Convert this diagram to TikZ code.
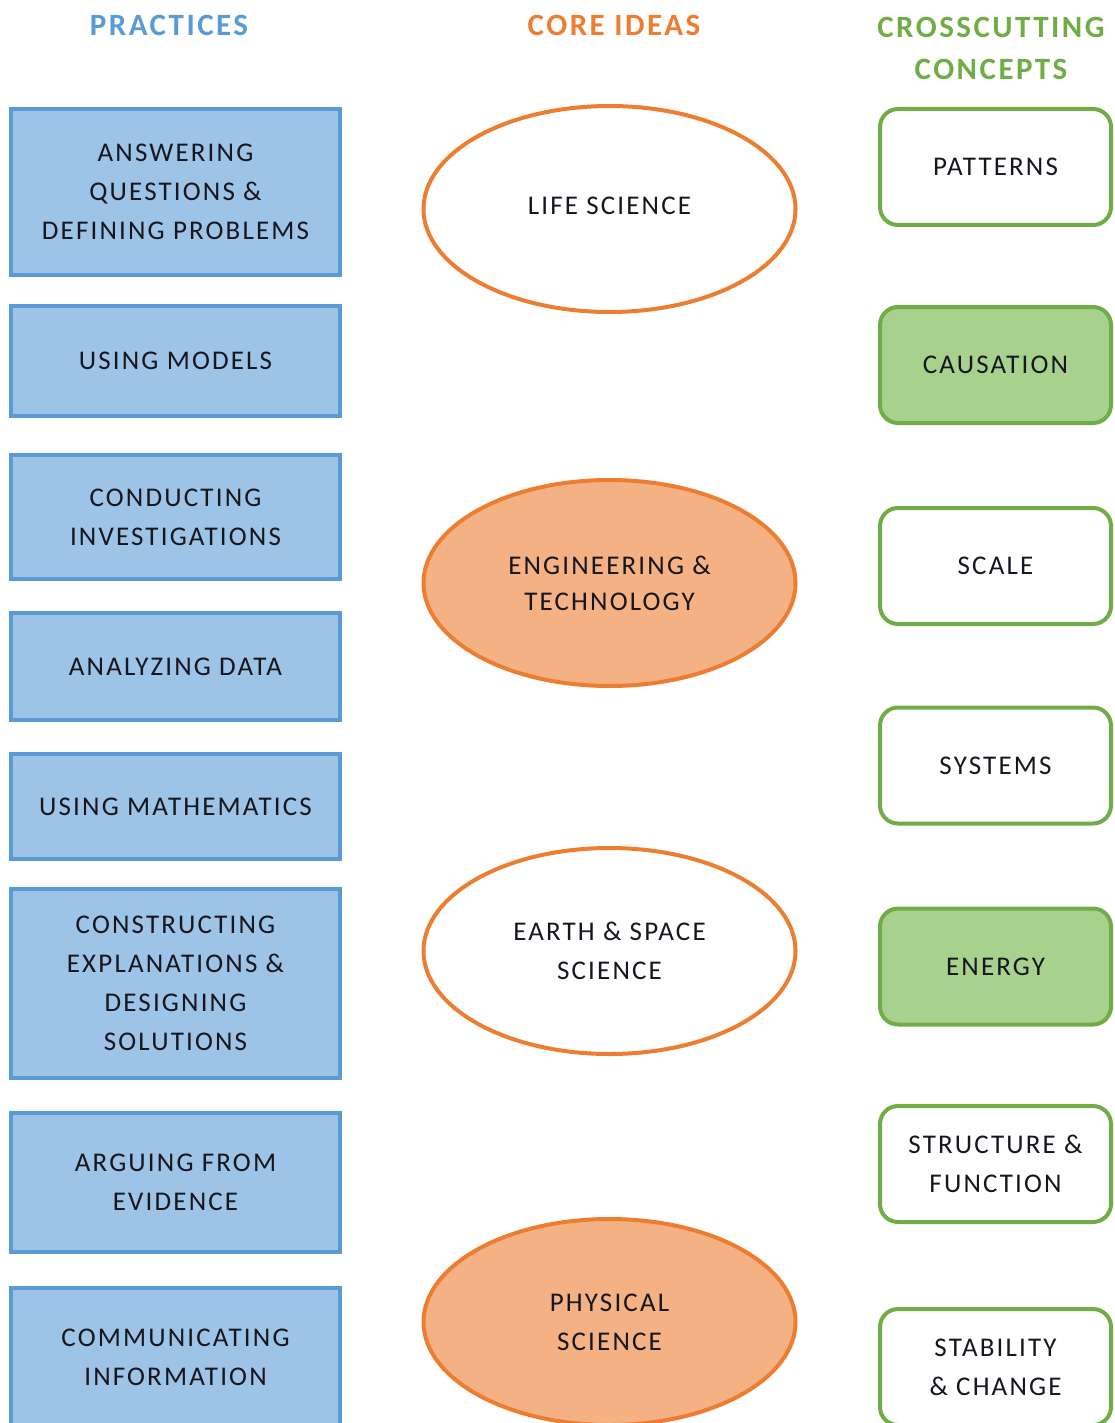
\documentclass[tikz,border=0pt]{standalone}
\usepackage{fontspec}
\setmainfont{Carlito}[LetterSpace=8]
\usetikzlibrary{shapes.geometric}
\definecolor{pblue}{HTML}{5B9BD5}
\definecolor{pbluefill}{HTML}{9DC3E6}
\definecolor{corange}{HTML}{ED7D31}
\definecolor{corangefill}{HTML}{F4B183}
\definecolor{cgreen}{HTML}{70AD47}
\definecolor{cgreenfill}{HTML}{A9D18E}
\definecolor{txt}{HTML}{16161E}
\begin{document}
\begin{tikzpicture}[x=1pt,y=-1pt,
  every node/.style={text=txt, font=\fontsize{27}{39}\selectfont, align=center, inner sep=0pt},
  practice/.style={draw=pblue, fill=pbluefill, line width=4pt, rectangle, minimum width=329pt},
  idea/.style={draw=corange, line width=4pt, ellipse, minimum width=372pt, minimum height=206pt},
  ideafill/.style={idea, fill=corangefill},
  concept/.style={draw=cgreen, line width=4pt, rectangle, rounded corners=18pt, minimum width=231pt, minimum height=116pt},
  conceptfill/.style={concept, fill=cgreenfill},
  header/.style={font=\fontsize{31}{42}\selectfont\bfseries}
]
\useasboundingbox (0,0) rectangle (1115,1423);
\clip (0,0) rectangle (1115,1423);
% headers
\node[header, text=pblue] (hprac) at (169,25) {PRACTICES};
\node[header, text=corange] (hcore) at (614,25) {CORE IDEAS};
\node[header, text=cgreen] (hcross) at (991,48) {CROSSCUTTING\\CONCEPTS};
% practices
\node[practice, minimum height=166pt] (p1) at (175.5,192) {ANSWERING\\QUESTIONS \&\\DEFINING PROBLEMS};
\node[practice, minimum height=110pt] (p2) at (175.5,361) {USING MODELS};
\node[practice, minimum height=124pt] (p3) at (175.5,517) {CONDUCTING\\INVESTIGATIONS};
\node[practice, minimum height=107pt] (p4) at (175.5,666.5) {ANALYZING DATA};
\node[practice, minimum height=105pt] (p5) at (175.5,806.5) {USING MATHEMATICS};
\node[practice, minimum height=189pt] (p6) at (175.5,983.5) {CONSTRUCTING\\EXPLANATIONS \&\\DESIGNING\\SOLUTIONS};
\node[practice, minimum height=139pt] (p7) at (175.5,1182.5) {ARGUING FROM\\EVIDENCE};
\node[practice, minimum height=139pt] (p8) at (175.5,1357) {COMMUNICATING\\INFORMATION};
% core ideas
\node[idea] (c1) at (609.5,209) {\raisebox{7pt}{LIFE SCIENCE}};
\node[ideafill, font=\fontsize{27}{36}\selectfont] (c2) at (609.5,583) {ENGINEERING \&\\TECHNOLOGY};
\node[idea] (c3) at (609.5,951) {EARTH \& SPACE\\SCIENCE};
\node[ideafill] (c4) at (609.5,1322) {PHYSICAL\\SCIENCE};
% crosscutting concepts
\node[concept] (k1) at (995.5,167) {PATTERNS};
\node[conceptfill] (k2) at (995.5,365) {CAUSATION};
\node[concept] (k3) at (995.5,566) {SCALE};
\node[concept] (k4) at (995.5,765.5) {SYSTEMS};
\node[conceptfill] (k5) at (995.5,966.5) {ENERGY};
\node[concept] (k6) at (995.5,1164) {STRUCTURE \&\\FUNCTION};
\node[concept] (k7) at (995.5,1367) {STABILITY\\\& CHANGE};
\end{tikzpicture}
\end{document}
